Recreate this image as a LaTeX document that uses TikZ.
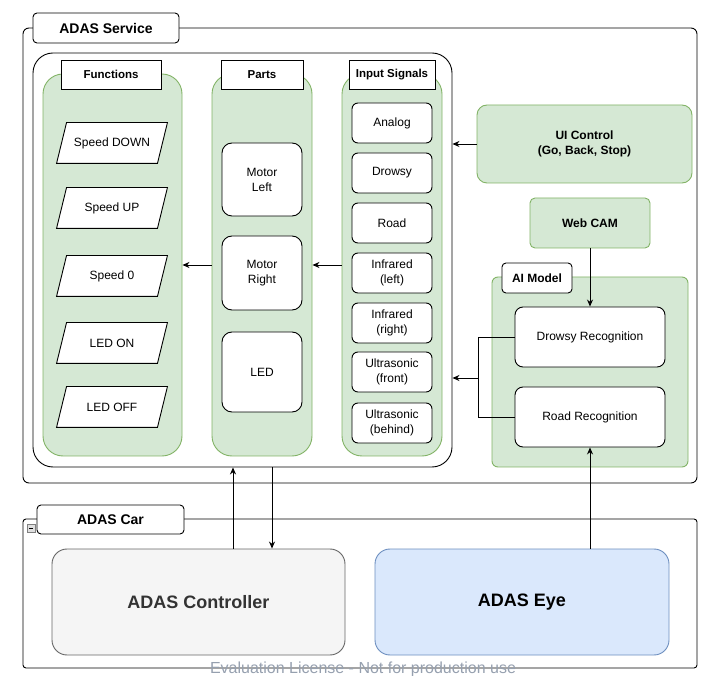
\documentclass[tikz,border=0pt]{standalone}
\usepackage{fontspec}
\setmainfont{Liberation Sans}
\usetikzlibrary{arrows.meta, positioning}

\definecolor{grfill}{HTML}{D5E8D4}
\definecolor{grline}{HTML}{82B366}
\definecolor{blfill}{HTML}{DAE8FC}
\definecolor{blline}{HTML}{6C8EBF}
\definecolor{gyfill}{HTML}{F5F5F5}
\definecolor{gyline}{HTML}{666666}
\definecolor{gytext}{HTML}{333333}
\definecolor{wmark}{RGB}{150,160,175}

\tikzset{
  sz/.style 2 args={minimum width=#1, minimum height=#2, inner sep=0pt},
  plainbox/.style={draw, fill=white, rounded corners=#1},
  greenbox/.style={draw=grline, fill=grfill, rounded corners=#1},
  tab/.style={draw, fill=white, rounded corners=4pt, font=\fontsize{14}{16}\selectfont\bfseries},
  head/.style={draw, fill=white, font=\fontsize{11.5}{14}\selectfont\bfseries},
  txt/.style={align=center, font=\fontsize{12}{15}\selectfont},
  arr/.style={-{Stealth[length=7pt,width=6pt]}}
}

\begin{document}
\begin{tikzpicture}[x=1pt, y=-1pt, line width=0.9pt]
  \useasboundingbox (0,0) rectangle (721,676);

  % ADAS Service
  \node (service) at (360,255.5)[draw, rounded corners=6pt, sz={674}{455}]{};
  \node (servicetitle) at (106,28)[tab, sz={146}{30}]{ADAS Service};
  \node (inner) at (242.5,260)[draw, rounded corners=20pt, sz={419}{414}]{};

  % columns
  \node (colfun) at (112.5,265)[greenbox=20pt, sz={139}{382}]{};
  \node (colparts) at (262,265)[greenbox=20pt, sz={100}{382}]{};
  \node (colsig) at (392,265)[greenbox=20pt, sz={100}{382}]{};
  \node (funhead) at (111,74.5)[head, sz={100}{29}]{Functions};
  \node (partshead) at (262,74.5)[head, sz={82}{29}]{Parts};
  \node (sighead) at (392,74.5)[head, sz={86}{29}]{Input Signals};

  % functions
  \foreach \name/\y/\label in {spdown/143/Speed DOWN, spup/208/Speed UP, spzero/276/Speed 0,
                              ledon/343/LED ON, ledoff/407/LED OFF}{
    \node (\name) at (112,\y)[sz={100}{40}]{};
    \draw[fill=white] ([xshift=-5pt]\name.south west) -- ([xshift=-5pt]\name.south east)
      -- ([xshift=5pt]\name.north east) -- ([xshift=5pt]\name.north west) -- cycle;
    \node at (\name)[txt]{\label};
  }

  % parts
  \node (motorleft) at (262,179.5)[plainbox=10pt, txt, sz={80}{73}]{Motor\\Left};
  \node (motorright) at (262,273)[plainbox=10pt, txt, sz={80}{74}]{Motor\\Right};
  \node (led) at (262,372)[plainbox=10pt, txt, sz={80}{80}]{LED};

  % input signals
  \foreach \name/\y/\label in {analog/123/Analog, drowsysig/173/Drowsy, roadsig/223/Road,
                              irleft/273/Infrared\\(left), irright/323/Infrared\\(right),
                              usfront/372/Ultrasonic\\(front), usback/423/Ultrasonic\\(behind)}{
    \node (\name) at (392,\y)[plainbox=6pt, txt, sz={80}{40}]{\label};
  }

  % right side
  \node (uictrl) at (584.5,144)[greenbox=10pt, txt, sz={215}{78}, font=\fontsize{12}{15}\selectfont\bfseries]{UI Control\\(Go, Back, Stop)};
  \node (webcam) at (590,223)[greenbox=5pt, txt, sz={120}{50}, font=\fontsize{12}{15}\selectfont\bfseries]{Web CAM};
  \node (aimodel) at (590,372)[greenbox=6pt, sz={196}{190}]{};
  \node (aititle) at (537,278)[tab, sz={70}{30}, font=\fontsize{12}{15}\selectfont\bfseries]{AI Model};
  \node (drowsy) at (590,337)[plainbox=8pt, txt, sz={150}{60}]{Drowsy Recognition};
  \node (road) at (590,417)[plainbox=8pt, txt, sz={150}{60}]{Road Recognition};

  % ADAS Car
  \node (carbox) at (360,593.5)[draw, rounded corners=3pt, sz={674}{149}]{};
  \node (cartitle) at (110.5,519.5)[tab, sz={147}{29}]{ADAS Car};
  \draw[draw=gray, fill=gray!25, line width=0.6pt] (27,524) rectangle (35,532);
  \draw[line width=0.6pt] (29,528) -- (33,528);
  \node (ctrl) at (198.5,602)[draw=gyline, fill=gyfill, rounded corners=15pt, sz={293}{106},
    text=gytext, font=\fontsize{18}{20}\selectfont\bfseries]{ADAS Controller};
  \node (eye) at (522,602)[draw=blline, fill=blfill, rounded corners=15pt, sz={294}{106},
    font=\fontsize{18}{20}\selectfont\bfseries]{ADAS Eye};

  % connectors
  \draw[arr] (colparts.west) -- (colfun.east);
  \draw[arr] (colsig.west) -- (colparts.east);
  \draw[arr] (uictrl.west) -- (uictrl.west -| inner.east);
  \draw[arr] (webcam.south) -- (drowsy.north);
  \coordinate (aijoin) at (478,378);
  \draw (drowsy.west) -| (aijoin);
  \draw (road.west) -| (aijoin);
  \draw[arr] (aijoin) -- (aijoin -| inner.east);
  \draw[arr] (road.south |- eye.north) -- (road.south);
  \coordinate (ctrlup) at ([xshift=34.5pt]ctrl.north);
  \coordinate (ctrldown) at ([xshift=73.5pt]ctrl.north);
  \draw[arr] (ctrlup) -- (ctrlup |- inner.south);
  \draw[arr] (ctrldown |- inner.south) -- (ctrldown);

  \node (watermark) at (363,669)[text=wmark, font=\fontsize{16}{18}\selectfont]{Evaluation License - Not for production use};
\end{tikzpicture}
\end{document}
